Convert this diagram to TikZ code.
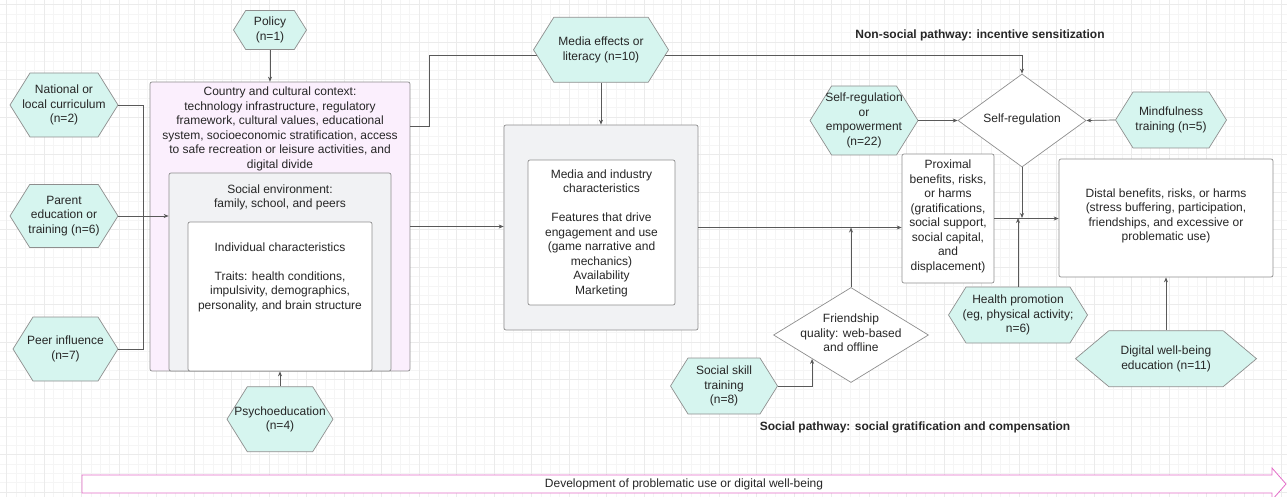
\documentclass[tikz,border=0pt]{standalone}
\usepackage{fontspec}
\setmainfont{Liberation Sans}
\usetikzlibrary{shapes}
\usetikzlibrary{shapes.symbols}
\usetikzlibrary{calc}
\usetikzlibrary{positioning}
\usetikzlibrary{arrows.meta}

\definecolor{hexfill}{HTML}{D6F5EF}
\definecolor{ctxfill}{HTML}{FBEFFD}
\definecolor{boxfill}{HTML}{F1F2F4}
\definecolor{edgegray}{HTML}{8E8E8E}
\definecolor{devpink}{HTML}{E46CC8}

\begin{document}
\begin{tikzpicture}[x = 1pt, y = -1pt, line width = 0.7pt,
    every node/.style = {font = \fontsize{12}{14.5}\selectfont, text = black!85},
    hexa/.style = {signal, signal to = east and west, signal pointer angle = 116, draw = edgegray, fill = hexfill, align = center, inner xsep = -16pt, inner ysep = 1pt},
    box/.style = {draw = edgegray, rounded corners = 2pt, inner sep = 0pt},
    diam/.style = {diamond, draw = edgegray, fill = white, inner sep = 0pt},
    link/.style = {draw = black!65},
    arr/.style = {link, -{Stealth[length = 5pt, width = 4pt]}}]

    \useasboundingbox (0,0) rectangle (1287,497);

    % background grid
    \draw[black!4, line width = 0.4pt, step = 9.375pt, shift = {(6.5,4.5)}] (-6.5,-4.5) grid (1281,493);
    \draw[black!8, line width = 0.4pt, step = 37.5pt, shift = {(6.5,4.5)}] (-6.5,-4.5) grid (1281,493);


    % nested context boxes
    \node (ctry) at (280,226.5) [box, fill = ctxfill, minimum width = 260pt, minimum height = 289pt] {};
    \node (soc)  at (280,272)   [box, fill = boxfill, minimum width = 222pt, minimum height = 198pt] {};
    \node (ind)  at (280,296.5) [box, fill = white, minimum width = 184pt, minimum height = 149pt] {};

    \node (ctrytxt) at (280,129) [align = center] {Country and cultural context:\\technology infrastructure, regulatory\\framework, cultural values, educational\\system, socioeconomic stratification, access\\to safe recreation or leisure activities, and\\digital divide};
    \node (soctxt) at (280,197.5) [align = center] {Social environment:\\family, school, and peers};
    \node (indtxt) at (280,277) [align = center] {Individual characteristics\\[14.5pt]Traits: health conditions,\\impulsivity, demographics,\\personality, and brain structure};

    % media boxes
    \node (mout) at (601,227.5) [box, fill = boxfill, minimum width = 194pt, minimum height = 205pt] {};
    \node (min)  at (601.5,232.5) [box, fill = white, minimum width = 147pt, minimum height = 145pt] {};
    \node (medtxt) at (601.5,233) [align = center] {Media and industry\\characteristics\\[14.5pt]Features that drive\\engagement and use\\(game narrative and\\mechanics)\\Availability\\Marketing};

    % outcomes
    \node (prox) at (948,218.5) [box, fill = white, minimum width = 92pt, minimum height = 129pt] {};
    \node (proxtxt) at (948,216.5) [align = center] {Proximal\\benefits, risks,\\or harms\\(gratifications,\\social support,\\social capital,\\and\\displacement)};
    \node (dist) at (1166,218) [box, fill = white, minimum width = 214pt, minimum height = 118pt] {};
    \node (disttxt) at (1166,216) [align = center] {Distal benefits, risks, or harms\\(stress buffering, participation,\\friendships, and excessive or\\problematic use)};

    % moderators
    \node (sreg) at (1022,120.5) [diam, minimum width = 128pt, minimum height = 93pt] {};
    \node (sregtxt) at (1022,119) {Self-regulation};
    \node (fr) at (851,335) [diam, minimum width = 155pt, minimum height = 95pt] {};
    \node (frtxt) at (851,333) [align = center] {Friendship\\quality: web-based\\and offline};

    \coordinate (bend) at (429,55);
    \draw[arr] ([yshift = 100pt]ctry.east) -| (bend) -| (sreg.north);


    % interventions
    \node (pol)  at (270,30)  [hexa, minimum width = 73pt, minimum height = 39pt] {Policy\\(n=1)};
    \node (nat)  at (64,105)  [hexa, minimum width = 108pt, minimum height = 64pt] {National or\\local curriculum\\(n=2)};
    \node (par)  at (64,216)  [hexa, minimum width = 108pt, minimum height = 63pt] {Parent\\education or\\training (n=6)};
    \node (peer) at (65.5,349) [hexa, minimum width = 105pt, minimum height = 64pt] {Peer influence\\(n=7)};
    \node (psy)  [hexa, below = 15pt of ctry, minimum width = 106pt, minimum height = 65pt] {Psychoeducation\\(n=4)};
    \node (med)  [hexa, above = 42pt of mout, minimum width = 135pt, minimum height = 65pt] {Media effects or\\literacy (n=10)};
    \node (semp) at (864,120.5) [hexa, minimum width = 108pt, minimum height = 69pt] {Self-regulation\\or\\empowerment\\(n=22)};
    \node (mind) at (1171,120) [hexa, minimum width = 111pt, minimum height = 56pt] {Mindfulness\\training (n=5)};
    \node (skill) at (724,386) [hexa, minimum width = 107pt, minimum height = 56pt] {Social skill\\training\\(n=8)};
    \node (hp)   at (1018,315) [hexa, minimum width = 139pt, minimum height = 56pt] {Health promotion\\(eg, physical activity;\\n=6)};
    \node (dig)  [hexa, below = 53pt of dist, signal pointer angle = 80, minimum width = 181pt, minimum height = 56pt] {Digital well-being\\education (n=11)};

    % pathway titles
    \node (nstitle) at (980,35)  {\bfseries Non-social pathway: incentive sensitization};
    \node (stitle)  at (915,427) {\bfseries Social pathway: social gratification and compensation};


    % connectors
    \coordinate (jl) at (143,216);
    \draw[link] (nat.east) -| (jl);
    \draw[link] (peer.east) -| (jl);
    \draw[arr] (par.east) -- (par.east -| soc.west);

    \draw[arr] (pol.south) -- (pol.south |- ctry.north);
    \draw[arr] (psy.north) -- (ctry.south);
    \draw[arr] (ctry.east) -- (ctry.east -| mout.west);
    \draw[arr] (med.south) -- (mout.north);
    \draw[arr] (mout.east) -- (mout.east -| prox.west);

    \draw[arr] (fr.north) -- (fr.north |- mout.east);
    \draw[arr] (skill.east) -| (fr.south west);

    \draw[arr] (semp.east) -- (sreg.west);
    \draw[arr] (mind.west) -- (sreg.east);
    \draw[arr] (sreg.south) -- (sreg.south |- dist.west);
    \draw[arr] (prox.east) -- (prox.east -| dist.west);
    \draw[arr] (hp.north) -- (hp.north |- dist.west);
    \draw[arr] (dig.north) -- (dist.south);


    % development arrow
    \draw[devpink, line width = 0.8pt, fill = white] (82,475) -- (1272,475) -- (1272,468) -- (1286,484) -- (1272,500) -- (1272,493) -- (82,493) -- cycle;
    \node (devtxt) at (684,484) {Development of problematic use or digital well-being};

\end{tikzpicture}
\end{document}
